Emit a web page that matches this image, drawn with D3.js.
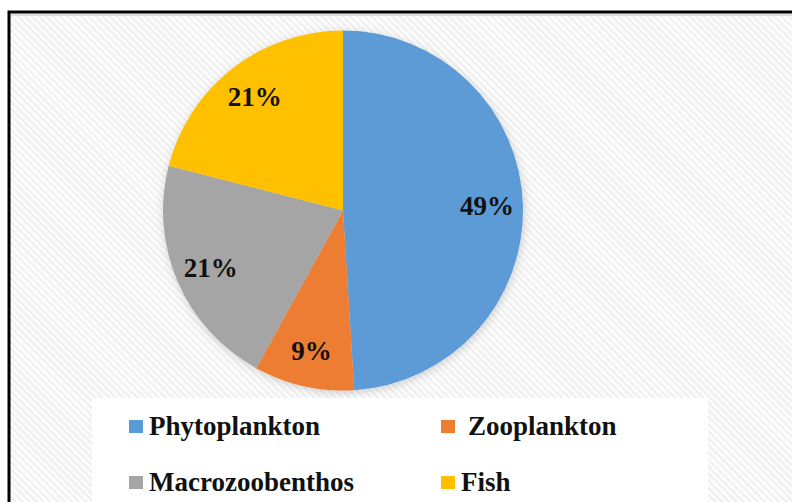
<!DOCTYPE html>
<html>
<head>
<meta charset="utf-8">
<script src="https://cdn.jsdelivr.net/npm/d3@7"></script>
<style>
  body { margin: 0; background: #fff; }
</style>
</head>
<body>
<div id="chart"></div>
<script>
// Data
var categories = ["Phytoplankton", "Zooplankton", "Macrozoobenthos", "Fish"];
var values = [49, 9, 21, 21];
var colors = ["#5B9BD5", "#ED7D31", "#A5A5A5", "#FFC000"];

var width = 792, height = 502;
var cx = 343, cy = 210.5, radius = 180;
var serif = "'Liberation Serif', 'Times New Roman', 'DejaVu Serif', serif";

var svg = d3.select("#chart").append("svg")
    .attr("width", width)
    .attr("height", height);

var defs = svg.append("defs");

// Hatched background of the chart area
var pattern = defs.append("pattern")
    .attr("id", "hatch")
    .attr("patternUnits", "userSpaceOnUse")
    .attr("width", 5)
    .attr("height", 5)
    .attr("patternTransform", "rotate(-45)");
pattern.append("rect")
    .attr("width", 5)
    .attr("height", 5)
    .style("fill", "#fcfcfc");
pattern.append("rect")
    .attr("width", 2)
    .attr("height", 5)
    .style("fill", "#efefef");

// Soft shadow under the pie
var shadow = defs.append("filter")
    .attr("id", "shadow")
    .attr("x", "-20%").attr("y", "-20%")
    .attr("width", "140%").attr("height", "140%");
shadow.append("feDropShadow")
    .attr("dx", 1)
    .attr("dy", 2)
    .attr("stdDeviation", 4)
    .attr("flood-color", "#000")
    .attr("flood-opacity", 0.18);

// Frame
svg.append("rect")
    .attr("x", 9)
    .attr("y", 12)
    .attr("width", width + 20)
    .attr("height", height + 20)
    .style("fill", "url(#hatch)")
    .style("stroke", "#000")
    .style("stroke-width", "3px");

svg.append("line")
    .attr("x1", 11).attr("x2", width)
    .attr("y1", 15).attr("y2", 15)
    .style("stroke", "#dedede")
    .style("stroke-width", "2px");

// Pie
var pie = d3.pie()
    .sort(null)
    .value(function(d){ return d; });

var arcs = pie(values);
var total = d3.sum(values);

var arc = d3.arc()
    .innerRadius(0)
    .outerRadius(radius);

var labelArc = d3.arc()
    .innerRadius(radius * 0.8)
    .outerRadius(radius * 0.8);

var g = svg.append("g")
    .attr("transform", "translate(" + cx + "," + cy + ")");

g.append("g")
    .style("filter", "url(#shadow)")
  .selectAll("path")
    .data(arcs)
    .enter()
    .append("path")
    .attr("d", arc)
    .style("fill", function(d, i){ return colors[i]; });

var fmt = d3.format(".0%");

g.selectAll(".label")
    .data(arcs)
    .enter()
    .append("text")
    .attr("class", "label")
    .attr("transform", function(d){ return "translate(" + labelArc.centroid(d) + ")"; })
    .attr("dy", "0.35em")
    .attr("font-family", serif)
    .attr("font-weight", "bold")
    .attr("font-size", 27)
    .style("text-anchor", "middle")
    .style("fill", "#111")
    .text(function(d){ return fmt(d.value / total); });

// Legend box
svg.append("rect")
    .attr("x", 92)
    .attr("y", 398)
    .attr("width", 616)
    .attr("height", 110)
    .style("fill", "#fff");

var legendX = d3.scaleOrdinal().domain([0, 1]).range([129, 441]);
var legendY = d3.scaleOrdinal().domain([0, 1]).range([420, 476]);

var item = svg.selectAll(".legend")
    .data(categories)
    .enter()
    .append("g")
    .attr("class", "legend")
    .attr("transform", function(d, i){
      return "translate(" + legendX(i % 2) + "," + legendY(Math.floor(i / 2)) + ")";
    });

item.append("rect")
    .attr("width", 14)
    .attr("height", 13)
    .style("fill", function(d, i){ return colors[i]; });

item.append("text")
    .attr("x", function(d, i){ return i === 1 ? 27 : 20; })
    .attr("y", 15)
    .attr("font-family", serif)
    .attr("font-weight", "bold")
    .attr("font-size", 27)
    .style("fill", "#111")
    .text(function(d){ return d; });
</script>
</body>
</html>
